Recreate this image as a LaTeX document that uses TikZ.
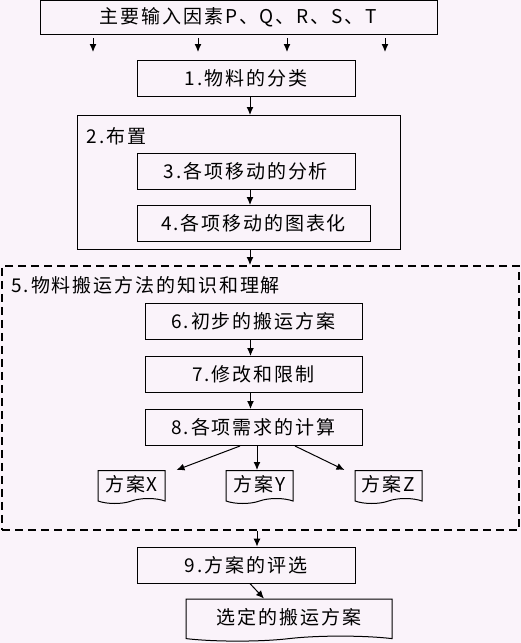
\documentclass[tikz,border=0pt]{standalone}
\usepackage{fontspec}
\newfontfamily\cjk[LetterSpace=10]{Noto Sans CJK SC}
\usetikzlibrary{arrows.meta, positioning, shapes.symbols}
\definecolor{paper}{RGB}{250,243,250}

\begin{document}
\begin{tikzpicture}[x=1pt, y=-1pt,
node distance=16pt,
box/.style={draw,
rectangle,
line width=1pt,
minimum width=218pt,
minimum height=36pt,
inner sep=0pt,
font=\cjk\fontsize{19}{21}\selectfont},
frame/.style={draw, rectangle, line width=1pt},
doc/.style={draw, tape, tape bend top=none, tape bend height=5pt,
line width=1pt, minimum width=67pt, minimum height=33pt, inner sep=0pt,
font=\cjk\fontsize{19}{21}\selectfont},
title/.style={anchor=west, inner sep=0pt, font=\cjk\fontsize{19}{21}\selectfont},
arrow/.style={-{Latex[length=8pt, width=7pt]}, line width=1pt}
]

\path[use as bounding box, fill=paper] (0,0) rectangle (521,643);
\clip (0,0) rectangle (521,643);

\node[box, minimum width=397pt, minimum height=34pt, anchor=south] (input) at (238.5,35) {主要输入因素P、Q、R、S、T};
\foreach \x [count=\i] in {93,198,287,385}{
  \coordinate (in\i) at (\x,38);
  \coordinate (out\i) at (\x,52);
  \draw[arrow] (in\i) -- (out\i);
}

\node[box, below=25pt of input, xshift=7.5pt] (step1) {1.物料的分类};

% layout frame
\node[frame, minimum width=323pt, minimum height=134pt, below=18pt of step1, xshift=-7.5pt] (layout) {};
\node[title] (layouttitle) at ([xshift=10pt, yshift=-21pt]layout.north west) {2.布置};
\node[box, below=38pt of layout.north, xshift=7.5pt] (step3) {3.各项移动的分析};
\node[box, minimum width=233pt, below=15pt of step3.south west, anchor=north west] (step4) {4.各项移动的图表化};

% handling methods frame
\node[frame, line width=1.6pt, dash pattern=on 8pt off 5pt, minimum width=517pt, minimum height=264pt, below=15pt of layout, xshift=22pt] (methods) {};
\node[title] (methodstitle) at ([xshift=10pt, yshift=-20pt]methods.north west) {5.物料搬运方法的知识和理解};
\node[box, minimum width=217pt, below=38pt of methods.north, xshift=-7pt] (step6) {6.初步的搬运方案};
\node[box, minimum width=217pt, below=of step6] (step7) {7.修改和限制};
\node[box, minimum width=217pt, below=of step7] (step8) {8.各项需求的计算};
\node[doc, below=24pt of step8, xshift=6pt] (planY) {方案Y};
\node[doc, left=60pt of planY] (planX) {方案X};
\node[doc, right=61pt of planY] (planZ) {方案Z};

\node[box, below=16pt of methods, xshift=-14.5pt] (step9) {9.方案的评选};
\node[doc, minimum width=206pt, minimum height=42pt, below=15pt of step9, xshift=43pt] (final) {选定的搬运方案};

\draw[arrow] ([xshift=4pt]step1.south) -- ([xshift=11.5pt]layout.north);
\draw[arrow] ([xshift=4pt]step3.south) -- ([xshift=-3.5pt]step4.north);
\draw[arrow] ([xshift=11.5pt]layout.south) -- ([xshift=-10.5pt]methods.north);
\draw[arrow] ([xshift=-3pt]step6.south) -- ([xshift=-3pt]step7.north);
\draw[arrow] ([xshift=-3pt]step7.south) -- ([xshift=-3pt]step8.north);
\draw[arrow] ([xshift=-13.5pt]step8.south) -- ([xshift=11pt]planX.north east);
\draw[arrow] ([xshift=3.5pt]step8.south) -- ([xshift=-2.5pt]planY.north);
\draw[arrow] ([xshift=41.5pt]step8.south) -- ([xshift=-10pt]planZ.north west);
\draw[arrow] ([xshift=-3.5pt]methods.south) -- ([xshift=11pt]step9.north);
\draw[arrow] ([xshift=4pt]step9.south) -- ([xshift=-25pt]final.north);

\end{tikzpicture}
\end{document}
